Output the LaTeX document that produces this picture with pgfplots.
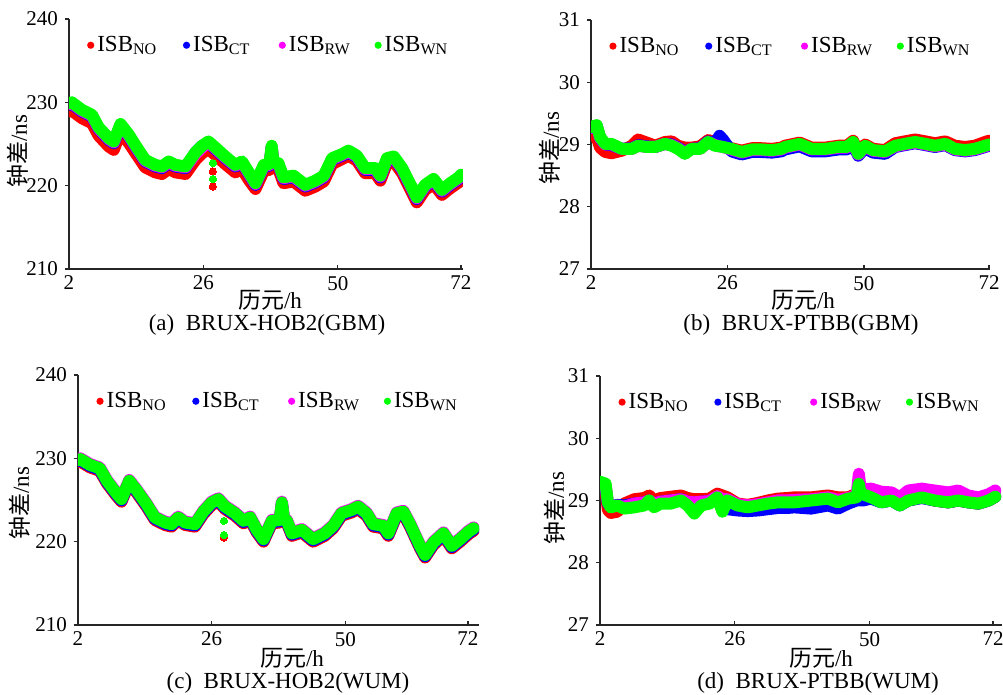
\documentclass[border=0pt]{standalone}
\usepackage{pgfplots}
\usepackage{pgfplotstable}
\pgfplotsset{compat=1.18}
\usepackage{fontspec}
\setmainfont{Liberation Serif}
\newfontfamily\cjk{Noto Sans CJK SC}

\definecolor{cNO}{RGB}{255,0,0}
\definecolor{cCT}{RGB}{0,0,255}
\definecolor{cRW}{RGB}{255,0,255}
\definecolor{cWN}{RGB}{0,255,0}

% t  NO  CT  RW  WN
\pgfplotstableread{
t no ct rw wn
2.0 228.9 229.7 229.8 229.9
2.5 229.0 229.8 229.9 230.0
4.3 228.1 228.9 229.0 229.1
6.1 227.5 228.3 228.4 228.5
7.3 226.0 226.8 226.9 227.0
9.1 224.7 225.5 225.6 225.7
10.0 224.3 225.1 225.2 225.3
11.2 226.4 227.2 227.3 227.4
12.7 225.1 225.9 226.0 226.1
14.1 223.7 224.4 224.5 224.6
15.6 222.2 222.9 223.0 223.1
17.4 221.6 222.3 222.4 222.5
18.6 221.4 222.1 222.2 222.3
19.8 222.0 222.7 222.8 222.9
21.0 221.6 222.3 222.4 222.5
22.8 221.4 222.1 222.2 222.3
24.6 223.1 224.0 223.8 224.0
25.8 223.9 224.8 224.6 224.8
26.9 224.4 225.1 225.2 225.3
28.1 223.7 224.4 224.5 224.6
29.9 222.6 223.3 223.4 223.5
31.7 221.6 222.3 222.4 222.5
32.9 222.0 222.7 222.8 222.9
34.1 220.7 221.4 221.5 221.6
35.3 219.6 220.1 220.2 220.3
36.8 221.8 222.3 222.4 222.5
37.8 221.9 222.4 222.5 222.6
38.2 223.9 224.6 224.7 224.8
38.5 222.1 222.6 222.7 222.8
39.4 222.0 222.5 222.6 222.7
40.3 220.3 220.8 220.9 221.0
42.1 220.5 221.0 221.1 221.2
44.2 219.4 219.9 220.0 220.1
46.0 219.9 220.4 220.5 220.6
47.5 220.5 221.0 221.1 221.2
49.0 222.6 223.1 223.2 223.3
50.8 223.2 223.6 223.7 223.8
51.9 223.6 224.0 224.1 224.2
53.4 223.0 223.4 223.5 223.6
54.9 221.5 221.9 222.0 222.1
56.7 221.5 221.9 222.0 222.1
57.6 220.6 221.0 221.1 221.2
58.8 222.7 223.1 223.2 223.3
60.0 222.9 223.3 223.4 223.5
61.5 221.5 221.9 222.0 222.1
63.3 219.1 219.5 219.6 219.7
64.1 218.0 218.4 218.5 218.6
65.6 219.5 219.9 220.0 220.1
67.1 220.2 220.6 220.7 220.8
68.6 218.9 219.3 219.4 219.5
70.1 219.7 220.1 220.2 220.3
71.6 220.4 220.8 220.9 221.0
72.0 220.7 221.1 221.2 221.3
}\dataA

\pgfplotstableread{
t no ct rw wn
2.0 29.15 29.27 29.27 29.28
3.0 29.12 29.30 29.30 29.31
3.6 28.95 29.10 29.11 29.12
4.5 28.88 29.00 29.00 29.01
5.6 28.86 28.99 29.00 29.01
7.4 28.90 28.93 28.93 28.93
9.2 28.98 28.94 28.93 28.93
10.3 29.08 28.99 28.98 28.98
11.8 29.03 28.97 28.96 28.96
13.3 28.98 28.96 28.96 28.96
15.0 29.04 29.01 29.01 29.01
16.2 29.05 29.00 28.99 28.98
17.3 28.98 28.95 28.94 28.93
18.5 28.95 28.88 28.86 28.85
19.7 28.95 28.93 28.93 28.93
21.2 28.97 28.94 28.93 28.93
22.6 29.07 29.05 29.04 29.04
23.8 29.04 29.02 28.99 28.98
24.6 29.00 29.14 28.97 28.97
25.2 28.97 29.08 28.96 28.96
26.7 28.94 28.89 28.92 28.93
28.5 28.90 28.84 28.87 28.88
30.3 28.94 28.88 28.91 28.92
32.0 28.94 28.88 28.91 28.92
33.8 28.93 28.87 28.90 28.91
35.5 28.95 28.89 28.92 28.93
36.1 28.98 28.92 28.95 28.96
38.7 29.03 28.97 29.00 29.01
40.8 28.95 28.89 28.92 28.93
43.2 28.95 28.89 28.92 28.93
45.5 28.98 28.92 28.95 28.96
47.0 28.98 28.92 28.95 28.96
48.1 29.06 29.00 29.03 29.04
49.0 28.87 28.82 28.84 28.85
50.2 29.00 28.94 28.97 28.98
51.6 28.93 28.87 28.90 28.91
53.7 28.91 28.85 28.88 28.89
55.5 29.02 28.96 28.97 28.98
57.2 29.05 28.99 29.00 29.01
59.0 29.08 29.02 29.03 29.04
60.8 29.05 28.99 29.00 29.01
62.5 29.02 28.96 28.97 28.98
64.3 29.05 28.99 29.00 29.01
66.0 28.98 28.91 28.92 28.93
67.8 28.96 28.89 28.90 28.91
69.5 28.98 28.91 28.92 28.93
71.3 29.04 28.96 28.97 28.98
72.0 29.06 28.98 28.99 29.00
}\dataB

\pgfplotstableread{
t no ct rw wn
2.0 229.5 229.65 229.9 229.8
2.4 229.6 229.75 230.0 229.9
4.2 228.9 229.05 229.3 229.2
5.9 228.5 228.65 228.9 228.8
7.2 227.0 227.15 227.4 227.3
8.9 225.5 225.65 225.9 225.8
9.8 224.8 224.95 225.2 225.1
11.2 227.0 227.15 227.4 227.3
12.5 225.9 226.05 226.3 226.2
14.3 224.2 224.35 224.6 224.5
15.8 222.6 222.75 223.0 222.9
17.6 222.0 222.15 222.4 222.3
18.8 221.8 221.95 222.2 222.1
20.0 222.6 222.75 223.0 222.9
21.2 222.0 222.15 222.4 222.3
23.0 221.8 221.95 222.2 222.1
24.5 223.3 223.45 223.7 223.6
26.0 224.4 224.55 224.8 224.7
27.2 224.8 224.95 225.2 225.1
28.4 223.9 224.05 224.3 224.2
30.2 223.1 223.25 223.5 223.4
31.7 222.2 222.35 222.6 222.5
32.9 222.6 222.75 223.0 222.9
34.1 221.1 221.25 221.5 221.4
35.3 220.0 220.15 220.4 220.3
36.8 222.2 222.35 222.6 222.5
38.2 222.3 222.45 222.7 222.6
38.6 224.4 224.55 224.8 224.7
39.0 222.3 222.45 222.7 222.6
39.5 222.2 222.35 222.6 222.5
40.4 220.7 220.85 221.1 221.0
42.2 221.1 221.25 221.5 221.4
44.2 220.0 220.15 220.4 220.3
46.3 220.7 220.85 221.1 221.0
47.8 221.6 221.75 222.0 221.9
49.3 223.1 223.25 223.5 223.4
51.1 223.5 223.65 223.9 223.8
52.3 223.9 224.05 224.3 224.2
53.8 223.1 223.25 223.5 223.4
55.0 221.8 221.95 222.2 222.1
56.8 221.6 221.75 222.0 221.9
57.7 220.7 220.85 221.1 221.0
59.2 223.1 223.25 223.5 223.4
60.4 223.3 223.45 223.7 223.6
61.6 221.8 221.95 222.2 222.1
63.4 219.2 219.35 219.6 219.5
64.3 218.1 218.25 218.5 218.4
65.8 219.6 219.75 220.0 219.9
67.6 220.7 220.85 221.1 221.0
69.1 219.2 219.35 219.6 219.5
70.6 220.0 220.15 220.4 220.3
72.1 220.9 221.05 221.3 221.2
73.0 221.3 221.45 221.7 221.6
}\dataC

\pgfplotstableread{
t no ct rw wn
2.0 29.22 29.25 29.27 29.30
3.0 29.15 29.20 29.25 29.27
3.4 28.85 28.95 28.97 28.97
3.9 28.80 28.90 28.90 28.89
5.1 28.82 28.93 28.92 28.92
6.3 28.95 28.92 28.90 28.87
8.1 29.02 28.95 28.95 28.89
9.9 29.04 28.97 28.97 28.92
10.75 29.08 29.00 29.00 29.00
11.6 29.00 28.95 28.95 28.89
12.8 29.04 28.98 28.98 28.95
14.6 29.06 29.00 29.00 28.95
16.4 29.08 29.02 29.02 29.00
17.6 29.04 28.98 28.98 28.92
18.8 29.02 28.97 28.97 28.79
20.0 29.02 28.98 28.98 28.92
21.5 29.03 28.99 28.99 28.95
22.9 29.11 29.06 29.07 29.05
23.8 29.08 28.90 29.02 28.82
24.7 29.05 28.86 29.02 29.00
26.5 28.95 28.84 28.94 28.92
28.3 28.93 28.83 28.92 28.89
30.1 28.96 28.84 28.94 28.92
31.9 29.00 28.86 28.97 28.95
33.7 29.03 28.88 29.00 28.97
35.4 29.04 28.88 29.00 28.97
36.6 29.05 28.89 29.01 28.97
39.6 29.05 28.87 29.02 29.00
42.6 29.08 28.92 29.05 29.03
44.4 29.05 28.87 29.01 28.97
46.2 29.05 28.95 29.04 29.03
47.7 29.11 29.00 29.08 29.05
48.1 29.10 29.00 29.43 29.27
48.4 29.10 29.00 29.20 29.12
48.8 29.10 29.00 29.18 29.10
50.3 29.05 29.03 29.19 29.05
52.1 28.98 28.97 29.14 28.97
53.9 29.00 29.00 29.13 29.00
55.4 28.93 28.92 29.05 28.92
56.9 29.00 29.00 29.16 29.00
59.3 29.05 29.04 29.19 29.05
61.6 29.00 29.00 29.16 29.00
64.0 28.97 28.97 29.13 28.97
65.8 29.00 29.00 29.16 29.00
67.6 28.97 28.97 29.08 28.97
69.4 28.95 28.95 29.05 28.95
71.2 29.00 29.00 29.10 29.00
72.4 29.06 29.06 29.16 29.06
}\dataD

\pgfplotsset{
  isbpanel/.style={
    scale only axis,
    axis x line*=bottom, axis y line*=left,
    axis line style={-, line width=0.75pt, black!85},
    xmin=2, xtick={2,26,50,72},
    xtick align=inside, ytick align=outside,
    major tick length=2pt,
    tick style={line width=0.6pt, black!85},
    ticklabel style={font=\fontsize{10.5}{11}\selectfont},
    /pgf/number format/assume math mode=true,
    legend columns=4,
    legend style={draw=none, fill=none, inner sep=0pt,
      at={(axis description cs:0.045,0.895)}, anchor=west,
      font=\fontsize{11.5}{12}\selectfont,
      nodes={inner sep=1.5pt},
      /tikz/every even column/.style={column sep=0pt}},
    legend image code/.code={\fill[##1, draw=none] (0pt,0pt) circle (1.8pt);},
    every axis plot/.append style={line width=6pt, line join=round, line cap=round},
  },
  outl/.style={only marks, mark=*, mark size=1.8pt, forget plot,
    mark options={draw=none, line width=0pt}},
}

\newcommand{\isbentries}{\legend{\makebox[41.3pt][l]{ISB\textsubscript{NO}},\makebox[41.3pt][l]{ISB\textsubscript{CT}},\makebox[41.3pt][l]{ISB\textsubscript{RW}},ISB\textsubscript{WN}}}

\begin{document}
\begin{tikzpicture}
\useasboundingbox (0,0) rectangle (501.5pt,347.5pt);

% (a)
\begin{axis}[isbpanel, at={(34.5pt,213pt)}, anchor=south west,
  width=197pt, height=125pt, xmax=72.36, ymin=210, ymax=240, ytick={210,220,230,240}]
\addplot[cNO] table[x=t,y=no] {\dataA};
\addplot[cCT] table[x=t,y=ct] {\dataA};
\addplot[cRW] table[x=t,y=rw] {\dataA};
\addplot[cWN] table[x=t,y=wn] {\dataA};
\addplot[cNO, outl] coordinates {(27.7,221.7) (27.7,219.9)};
\addplot[cWN, outl] coordinates {(27.7,222.7) (27.7,220.8)};
\isbentries
\end{axis}

% (b)
\begin{axis}[isbpanel, at={(295.5pt,213pt)}, anchor=south west,
  width=199.5pt, height=124.5pt, xmax=72.17, ymin=27, ymax=31, ytick={27,28,29,30,31}]
\addplot[cNO] table[x=t,y=no] {\dataB};
\addplot[cCT] table[x=t,y=ct] {\dataB};
\addplot[cRW] table[x=t,y=rw] {\dataB};
\addplot[cWN] table[x=t,y=wn] {\dataB};
\isbentries
\end{axis}

% (c)
\begin{axis}[isbpanel, at={(39pt,35pt)}, anchor=south west,
  width=200.5pt, height=125pt, xmax=73.98, ymin=210, ymax=240, ytick={210,220,230,240}]
\addplot[cNO] table[x=t,y=no] {\dataC};
\addplot[cCT] table[x=t,y=ct] {\dataC};
\addplot[cRW] table[x=t,y=rw] {\dataC};
\addplot[cWN] table[x=t,y=wn] {\dataC};
\addplot[cNO, outl] coordinates {(28.2,220.5)};
\addplot[cWN, outl] coordinates {(28.2,222.5) (28.2,220.8)};
\isbentries
\end{axis}

% (d)
\begin{axis}[isbpanel, at={(300pt,35pt)}, anchor=south west,
  width=201pt, height=124.5pt, xmax=73.6, ymin=27, ymax=31, ytick={27,28,29,30,31}]
\addplot[cNO] table[x=t,y=no] {\dataD};
\addplot[cCT] table[x=t,y=ct] {\dataD};
\addplot[cRW] table[x=t,y=rw] {\dataD};
\addplot[cWN] table[x=t,y=wn] {\dataD};
\isbentries
\end{axis}

% axis titles and captions
\begin{scope}[every node/.style={font=\fontsize{11.5}{12}\selectfont, inner sep=0pt}]
\node[rotate=90] at (9pt,272pt) {{\cjk 钟差}/ns};
\node[rotate=90] at (275pt,273.5pt) {{\cjk 钟差}/ns};
\node[rotate=90] at (10pt,96pt) {{\cjk 钟差}/ns};
\node[rotate=90] at (277.5pt,93.5pt) {{\cjk 钟差}/ns};
\node at (135pt,197.5pt) {{\cjk 历元}/h};
\node at (401.5pt,197.5pt) {{\cjk 历元}/h};
\node at (146pt,18.5pt) {{\cjk 历元}/h};
\node at (410.5pt,18.5pt) {{\cjk 历元}/h};
\node at (133.5pt,185pt) {(a)\ \ BRUX-HOB2(GBM)};
\node at (400.5pt,185pt) {(b)\ \ BRUX-PTBB(GBM)};
\node at (144pt,6pt) {(c)\ \ BRUX-HOB2(WUM)};
\node at (409pt,6pt) {(d)\ \ BRUX-PTBB(WUM)};
\end{scope}
\end{tikzpicture}
\end{document}
